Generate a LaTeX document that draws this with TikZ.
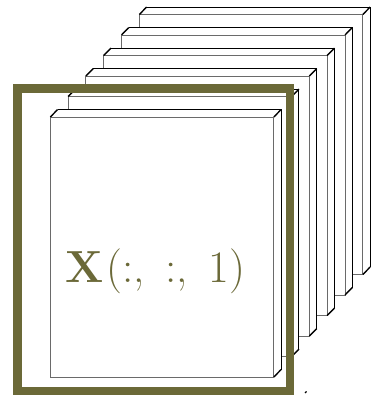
\documentclass[tikz,border=0pt]{standalone}
\usepackage{tikz}
\definecolor{olive}{HTML}{6B6938}
\definecolor{frontgray}{HTML}{6A6A6A}
\tikzset{
  frontedge/.style={draw=frontgray, line width=0.9pt},
  backedge/.style={draw=black, line width=0.9pt},
  diagedge/.style={draw=black, line width=1.4pt},
  framebox/.style={draw=olive, line width=8.3pt},
  labeltext/.style={text=olive, font=\fontsize{45}{50}\selectfont, inner sep=0pt, anchor=base}
}
\begin{document}
\begin{tikzpicture}[x=1pt,y=-1pt]
\useasboundingbox (0,0) rectangle (376,395);
\def\W{223.5}
\def\H{260}
\def\dx{7.3}
\def\dy{-7.4}
\foreach \i in {5,4,3,2,1,0}{
  \pgfmathsetmacro{\L}{50.3+17.8*\i}
  \pgfmathsetmacro{\T}{117-20.5*\i}
  \pgfmathsetmacro{\R}{\L+\W}
  \pgfmathsetmacro{\B}{\T+\H}
  \coordinate (tl\i) at (\L,\T);
  \coordinate (tr\i) at (\R,\T);
  \coordinate (br\i) at (\R,\B);
  \coordinate (bl\i) at (\L,\B);
  \coordinate (btl\i) at (\L+\dx,\T+\dy);
  \coordinate (btr\i) at (\R+\dx,\T+\dy);
  \coordinate (bbr\i) at (\R+\dx,\B+\dy);
  \fill[white] (tl\i) -- (btl\i) -- (btr\i) -- (bbr\i) -- (br\i) -- (bl\i) -- cycle;
  \draw[backedge] (btl\i) -- (btr\i) -- (bbr\i);
  \draw[frontedge] (tl\i) rectangle (br\i);
  \draw[diagedge] (tl\i) -- (btl\i);
  \draw[diagedge] (tr\i) -- (btr\i);
  \draw[diagedge] (br\i) -- (bbr\i);
}
\draw[framebox] (17.5,88.5) rectangle (290,391);
\node[labeltext] (lbl) at (155.5,282.7) {\textbf{X}\kern2pt(:,\hspace{0.46em}:,\hspace{0.46em}1)};
\coordinate (m1) at (305,393);
\coordinate (m2) at (306.5,391.5);
\draw[black, line width=1.2pt] (m1) -- (m2);
\end{tikzpicture}
\end{document}
